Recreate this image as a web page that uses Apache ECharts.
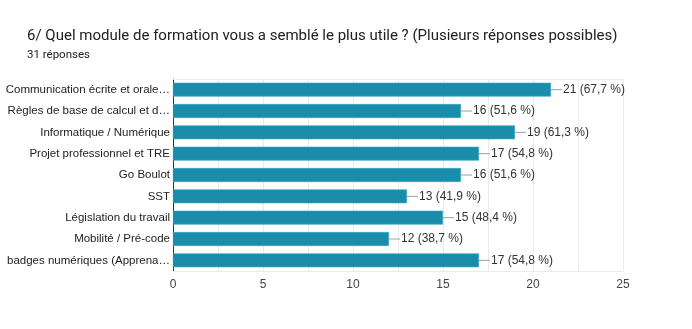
<!DOCTYPE html>
<html><head><meta charset="utf-8">
<script src="https://cdn.jsdelivr.net/npm/echarts@6/dist/echarts.min.js"></script>
<style>html,body{margin:0;padding:0;background:#fff}#c{width:692px;height:329px}</style>
</head><body><div id="c"></div>
<script>
var categories = [
  "Communication écrite et orale…",
  "Règles de base de calcul et d…",
  "Informatique / Numérique",
  "Projet professionnel et TRE",
  "Go Boulot",
  "SST",
  "Législation du travail",
  "Mobilité / Pré-code",
  "badges numériques (Apprena…"
];
var counts = [21, 16, 19, 17, 16, 13, 15, 12, 17];
var percents = ["67,7", "51,6", "61,3", "54,8", "51,6", "41,9", "48,4", "38,7", "54,8"];
var xTicks = [0, 5, 10, 15, 20, 25];
var title = "6/ Quel module de formation vous a semblé le plus utile ? (Plusieurs réponses possibles)";
var subtitle = "31 réponses";

var chart = echarts.init(document.getElementById('c'), null, {renderer: 'canvas'});
chart.setOption({
  animation: false,
  backgroundColor: '#fff',
  title: [{
    text: title, left: 22, top: 24,
    textStyle: {fontFamily: 'Roboto', fontSize: 15, fontWeight: 'normal', color: '#212121'}
  }, {
    text: subtitle, left: 22, top: 44,
    textStyle: {fontFamily: 'Roboto', fontSize: 11.5, fontWeight: 'normal', color: '#212121'}
  }],
  grid: {left: 173, right: 69, top: 79, bottom: 58, containLabel: false, outerBoundsMode: 'none'},
  xAxis: [{
    type: 'value', min: xTicks[0], max: xTicks[xTicks.length - 1], interval: 2.5,
    axisLine: {show: true, lineStyle: {color: '#ebebeb'}}, axisTick: {show: false},
    axisLabel: {
      fontFamily: 'Liberation Sans, Arial', fontSize: 12, color: '#444', margin: 8,
      formatter: function (v) { return xTicks.indexOf(v) >= 0 ? String(v) : ''; }
    },
    splitLine: {show: true, lineStyle: {color: '#ebebeb', width: 1}}
  }, {
    type: 'value', position: 'top', min: xTicks[0], max: xTicks[xTicks.length - 1],
    axisLine: {show: true, lineStyle: {color: '#ebebeb'}}, axisTick: {show: false},
    axisLabel: {show: false}, splitLine: {show: false}
  }],
  yAxis: {
    type: 'category', data: categories, inverse: true,
    axisLine: {show: true, lineStyle: {color: '#333', width: 1}},
    axisTick: {show: false},
    axisLabel: {fontFamily: 'Liberation Sans, Arial', fontSize: 11.5, color: '#222', margin: 3},
    splitLine: {show: false}
  },
  series: [{
    type: 'bar', data: counts, barCategoryGap: '35%',
    itemStyle: {color: '#1a8dac', borderColor: '#3aa6c2', borderWidth: 0.6},
    label: {
      show: true, position: 'right', distance: 0,
      formatter: function (p) { return '{ln|}{t|' + p.value + ' (' + percents[p.dataIndex] + ' %)}'; },
      rich: {
        ln: {width: 11, height: 1, backgroundColor: '#9e9e9e'},
        t: {fontFamily: 'Liberation Sans, Arial', fontSize: 12, color: '#333', padding: [0, 0, 0, 1]}
      }
    }
  }]
});
</script></body></html>
